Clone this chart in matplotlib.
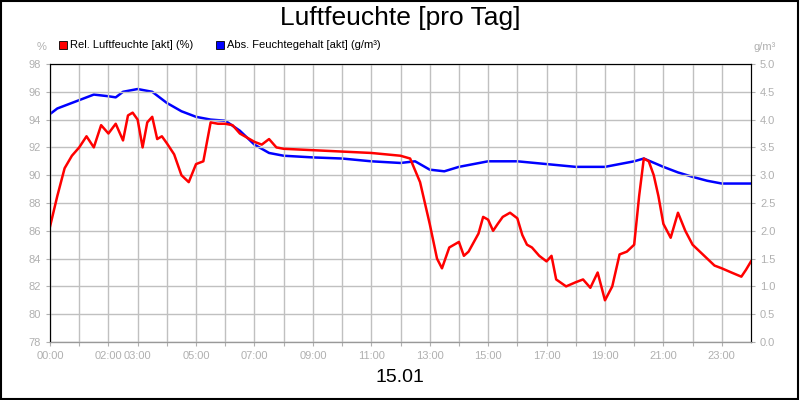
import matplotlib
matplotlib.use("Agg")
import matplotlib.pyplot as plt
from matplotlib.patches import Rectangle

plt.rcParams['font.family'] = ['Liberation Sans', 'DejaVu Sans']

rel_t = [0, .25, .5, .75, 1, 1.25, 1.5, 1.75, 2, 2.25, 2.5, 2.67, 2.83, 3, 3.17, 3.33, 3.5, 3.67, 3.83, 4,
         4.25, 4.5, 4.75, 5, 5.25, 5.5, 5.75, 6, 6.25, 6.5, 6.75, 7, 7.25, 7.5, 7.75, 8, 9, 10, 11, 12,
         12.33, 12.67, 13, 13.25, 13.42, 13.67, 14, 14.17, 14.33, 14.67, 14.83, 15, 15.17, 15.33, 15.5, 15.75,
         16, 16.17, 16.33, 16.5, 16.75, 17, 17.17, 17.33, 17.67, 18, 18.25, 18.5, 18.75, 19, 19.25, 19.5,
         19.75, 20, 20.17, 20.33, 20.5, 20.67, 20.83, 21, 21.25, 21.5, 21.75, 22, 22.25, 22.5, 22.75, 23,
         23.33, 23.67, 23.83, 24]
rel_v = [86.3, 88.5, 90.5, 91.4, 92, 92.8, 92, 93.6, 93, 93.7, 92.5, 94.3, 94.5, 94, 92, 93.8, 94.2, 92.6, 92.8, 92.3,
         91.5, 90, 89.5, 90.8, 91, 93.8, 93.7, 93.7, 93.6, 93, 92.7, 92.4, 92.2, 92.6, 92, 91.9, 91.8, 91.7, 91.6, 91.4,
         91.2, 89.5, 86.5, 84, 83.3, 84.8, 85.2, 84.2, 84.5, 85.8, 87, 86.8, 86, 86.5, 87, 87.3,
         86.9, 85.7, 85, 84.8, 84.2, 83.8, 84.2, 82.5, 82, 82.3, 82.5, 81.9, 83, 81, 82, 84.3,
         84.5, 85, 88.5, 91.2, 91, 90, 88.5, 86.5, 85.5, 87.3, 86, 85, 84.5, 84, 83.5, 83.3,
         83, 82.7, 83.2, 83.8]

abs_t = [0, .25, .5, 1, 1.5, 2, 2.25, 2.5, 3, 3.5, 4, 4.5, 5, 5.5, 6, 6.5, 7, 7.5, 8, 9, 10, 11, 12, 12.5,
         13, 13.5, 14, 15, 16, 17, 18, 19, 20, 20.33, 21, 21.5, 22, 22.5, 23, 24]
abs_v = [4.1, 4.2, 4.25, 4.35, 4.45, 4.42, 4.4, 4.5, 4.55, 4.5, 4.3, 4.15, 4.05, 4.0, 3.98, 3.8, 3.55, 3.4, 3.35,
         3.32, 3.3, 3.25, 3.22, 3.25, 3.1, 3.07, 3.15, 3.25, 3.25, 3.2, 3.15, 3.15, 3.25, 3.3, 3.15, 3.05,
         2.97, 2.9, 2.85, 2.85]

hour_labels = ["00:00", "", "02:00", "03:00", "", "05:00", "", "07:00", "", "09:00", "", "11:00", "",
               "13:00", "", "15:00", "", "17:00", "", "19:00", "", "21:00", "", "23:00"]

fig = plt.figure(figsize=(8, 4), dpi=100)
fig.patches.append(Rectangle((0.001, 0.002), 0.997, 0.995, transform=fig.transFigure,
                             fill=False, edgecolor="black", linewidth=1.5))
ax = fig.add_axes([50 / 800, 58 / 400, 701 / 800, 278 / 400])
ax.plot(rel_t, rel_v, color="#ff0000", lw=1.8)
ax.set_xlim(0, 24)
ax.set_ylim(78, 98)
ax.set_yticks(range(78, 99, 2))
ax.set_xticks(range(24))
ax.set_xticklabels(hour_labels)
ax.grid(True, color="#c0c0c0", lw=1)
ax.tick_params(colors="#b0b0b0", labelsize=8, length=3)
for s in ax.spines.values():
    s.set_color("black")
ax.spines["bottom"].set_color("#999999")

ax2 = ax.twinx()
ax2.plot(abs_t, abs_v, color="#0000ff", lw=1.8)
ax2.set_ylim(0, 5)
ax2.set_yticks([i * 0.5 for i in range(11)])
ax2.set_yticklabels([f"{i * 0.5:.1f}" for i in range(11)])
ax2.tick_params(colors="#b0b0b0", labelsize=8, length=3)
ax.set_zorder(ax2.get_zorder() + 1)
ax.patch.set_visible(False)

fig.text(0.5, 0.955, "Luftfeuchte [pro Tag]", ha="center", va="center", fontsize=19)
fig.text(0.5, 0.055, "15.01", ha="center", va="center", fontsize=14)
fig.text(42 / 800, 1 - 47 / 400, "%", ha="center", va="center", fontsize=8, color="#b0b0b0")
fig.text(765 / 800, 1 - 47 / 400, "g/m³", ha="center", va="center", fontsize=8, color="#b0b0b0")
fig.patches.append(Rectangle((59 / 800, 1 - 49 / 400), 8 / 800, 8 / 400, transform=fig.transFigure,
                             facecolor="#ff0000", edgecolor="black", lw=0.6))
fig.text(70 / 800, 1 - 45 / 400, "Rel. Luftfeuchte [akt] (%)", va="center", fontsize=8)
fig.patches.append(Rectangle((216 / 800, 1 - 49 / 400), 8 / 800, 8 / 400, transform=fig.transFigure,
                             facecolor="#0000ff", edgecolor="black", lw=0.6))
fig.text(227 / 800, 1 - 45 / 400, "Abs. Feuchtegehalt [akt] (g/m³)", va="center", fontsize=8)

fig.savefig("out.png", dpi=100)
